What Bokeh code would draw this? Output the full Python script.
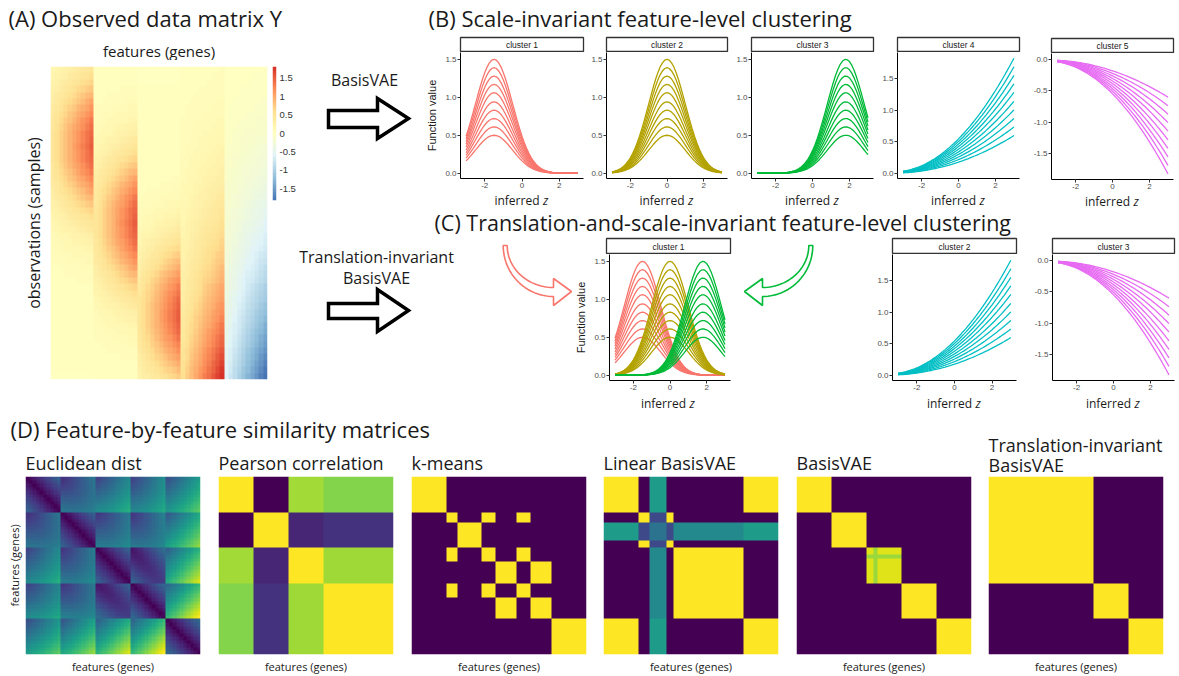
import numpy as np
from bokeh.plotting import figure
from bokeh.layouts import row, column
from bokeh.models import Range1d, LinearColorMapper, FixedTicker
from bokeh.core.properties import value
from bokeh.embed import file_html
from bokeh.resources import INLINE
from bokeh.palettes import Viridis256

# ---------------- DATA ----------------
z_grid = [round(-3 + 0.125 * i, 3) for i in range(49)]   # inferred z sample points

# normalised curve shapes (value at unit amplitude) along z_grid
profile_c1 = [0.3247, 0.3886, 0.4578, 0.5311, 0.6065, 0.6819, 0.7548, 0.8226, 0.8825, 0.9321,
              0.9692, 0.9922, 1.0, 0.9922, 0.9692, 0.9321, 0.8825, 0.8226, 0.7548, 0.6819,
              0.6065, 0.5311, 0.4578, 0.3886, 0.3247, 0.2671, 0.2163, 0.1724, 0.1353, 0.1046,
              0.0796, 0.0596, 0.0439, 0.0319, 0.0228, 0.0160, 0.0111, 0.0076, 0.0051, 0.0034,
              0.0022, 0.0014, 0.0009, 0.0005, 0.0003, 0.0002, 0.0001, 0.0001, 0.0]
profile_c2 = [0.0111, 0.0160, 0.0228, 0.0319, 0.0439, 0.0596, 0.0796, 0.1046, 0.1353, 0.1724,
              0.2163, 0.2671, 0.3247, 0.3886, 0.4578, 0.5311, 0.6065, 0.6819, 0.7548, 0.8226,
              0.8825, 0.9321, 0.9692, 0.9922, 1.0, 0.9922, 0.9692, 0.9321, 0.8825, 0.8226,
              0.7548, 0.6819, 0.6065, 0.5311, 0.4578, 0.3886, 0.3247, 0.2671, 0.2163, 0.1724,
              0.1353, 0.1046, 0.0796, 0.0596, 0.0439, 0.0319, 0.0228, 0.0160, 0.0111]
profile_c3 = [0.0, 0.0, 0.0, 0.0001, 0.0001, 0.0002, 0.0003, 0.0005, 0.0007, 0.0012,
              0.0018, 0.0028, 0.0043, 0.0065, 0.0095, 0.0139, 0.0198, 0.0279, 0.0387, 0.0529,
              0.0710, 0.0939, 0.1223, 0.1568, 0.1979, 0.2459, 0.3008, 0.3623, 0.4296, 0.5014,
              0.5762, 0.6520, 0.7261, 0.7963, 0.8596, 0.9137, 0.9560, 0.9848, 0.9988, 0.9972,
              0.9802, 0.9486, 0.9037, 0.8476, 0.7827, 0.7116, 0.6368, 0.5612, 0.4868]
profile_c45 = [0.0208, 0.0241, 0.0281, 0.0328, 0.0383, 0.0445, 0.0514, 0.0591, 0.0675, 0.0766,
               0.0864, 0.0970, 0.1083, 0.1203, 0.1330, 0.1465, 0.1607, 0.1756, 0.1913, 0.2077,
               0.2248, 0.2427, 0.2613, 0.2806, 0.3006, 0.3214, 0.3428, 0.3651, 0.3880, 0.4117,
               0.4361, 0.4612, 0.4871, 0.5137, 0.5410, 0.5691, 0.5978, 0.6273, 0.6576, 0.6886,
               0.7202, 0.7527, 0.7858, 0.8197, 0.8543, 0.8896, 0.9257, 0.9625, 1.0]
amp_c123 = [0.5, 0.61, 0.72, 0.83, 0.94, 1.06, 1.17, 1.28, 1.39, 1.5]
amp_c45 = [0.6, 0.735, 0.87, 1.005, 1.14, 1.28, 1.415, 1.55, 1.685, 1.82]

cluster_names = ["cluster 1", "cluster 2", "cluster 3", "cluster 4", "cluster 5"]
cluster_colors = ["#F8766D", "#B3A200", "#00BA38", "#00BFC4", "#E76BF3"]
cluster_profiles = [profile_c1, profile_c2, profile_c3, profile_c45, profile_c45]
cluster_amps = [amp_c123, amp_c123, amp_c123, amp_c45, amp_c45]
cluster_signs = [1, 1, 1, 1, -1]

x_ticks = [-2, 0, 2]
y_ticks_pos = [0.0, 0.5, 1.0, 1.5]
y_ticks_neg = [0.0, -0.5, -1.0, -1.5]
cbar_ticks = [1.5, 1, 0.5, 0, -0.5, -1, -1.5]
cbar_labels = ["1.5", "1", "0.5", "0", "-0.5", "-1", "-1.5"]

# co-clustering assignments of the 50 features
kmeans_labels = [0] * 10 + [1] * 3 + [2] * 7 + [1] * 4 + [3] * 6 + [1] * 4 + [3] * 6 + [4] * 10
linear_labels = [0] * 10 + [1] * 3 + [-1] * 5 + [1] * 2 + [2] * 20 + [0] * 10
linear_band_sim = {0: 0.55, 1: 0.22, 2: 0.47, -1: 0.38}
basisvae_labels = [0] * 10 + [1] * 10 + [2] * 10 + [3] * 10 + [4] * 10
basisvae_block_sim = {2: 0.95}
basisvae_uncertain = {22: 0.85}
ti_labels = [0] * 30 + [1] * 10 + [2] * 10

matrix_titles = ["Euclidean dist", "Pearson correlation", "k-means", "Linear BasisVAE",
                 "BasisVAE", "Translation-invariant\nBasisVAE"]

# ---------------- derived tables ----------------
features = []
for prof, amps, sgn in zip(cluster_profiles, cluster_amps, cluster_signs):
    for a in amps:
        features.append([sgn * a * v for v in prof])
F = np.array(features)            # 50 x 49
Y = F.T                           # observations x features

D_euc = np.sqrt(((F[:, None, :] - F[None, :, :]) ** 2).sum(-1))
D_pear = np.abs(np.corrcoef(F))


def cocluster(labels):
    lab = np.array(labels)
    return (lab[:, None] == lab[None, :]).astype(float)


M_km = cocluster(kmeans_labels)
n = len(linear_labels)
M_lin = np.zeros((n, n))
for i in range(n):
    for j in range(n):
        li, lj = linear_labels[i], linear_labels[j]
        if li == -1 and lj == -1:
            M_lin[i, j] = linear_band_sim[-1]
        elif li == -1 or lj == -1:
            M_lin[i, j] = linear_band_sim[lj if li == -1 else li]
        else:
            M_lin[i, j] = 1.0 if li == lj else 0.0
M_bv = cocluster(basisvae_labels)
for blk, v in basisvae_block_sim.items():
    idx = [k for k, l in enumerate(basisvae_labels) if l == blk]
    for i in idx:
        for j in idx:
            M_bv[i, j] = v
for f_i, v in basisvae_uncertain.items():
    idx = [k for k, l in enumerate(basisvae_labels) if l == basisvae_labels[f_i]]
    for j in idx:
        M_bv[f_i, j] = v
        M_bv[j, f_i] = v
M_ti = cocluster(ti_labels)
matrices = [D_euc, D_pear, M_km, M_lin, M_bv, M_ti]

# ---------------- styling helpers ----------------
TF = "Open Sans"
GG = "Liberation Sans"
HEAD = "22px"


def ramp(colors, n):
    rgb = [tuple(int(c[i:i + 2], 16) for i in (1, 3, 5)) for c in colors]
    out = []
    for k in range(n):
        t = k / (n - 1) * (len(rgb) - 1)
        i = min(int(t), len(rgb) - 2)
        f = t - i
        c = [round(rgb[i][m] + (rgb[i + 1][m] - rgb[i][m]) * f) for m in range(3)]
        out.append("#%02x%02x%02x" % tuple(c))
    return out


heat_palette = ramp(["#4575B4", "#91BFDB", "#E0F3F8", "#FFFFBF", "#FEE090", "#FC8D59", "#D73027"], 100)


def fig(**kw):
    return figure(toolbar_location=None, output_backend="svg", frame_align=False, **kw)


def canvas(x0, y0, w, h):
    p = fig(width=w, height=h, x_range=Range1d(x0, x0 + w), y_range=Range1d(y0 + h, y0),
            x_axis_location=None, y_axis_location=None, min_border=0)
    p.outline_line_color = None
    p.grid.visible = False
    return p


def put(p, x, y, txt, size, font=TF, align="left", color="#1a1a1a", style="normal", angle=0.0):
    p.text(x=[x], y=[y], text=[txt], text_font=value(font), text_font_size=value(size),
           text_align=align, text_baseline="middle", text_color=color,
           text_font_style=style, angle=angle)


def style_axis(ax):
    ax.axis_line_color = "black"
    ax.axis_line_width = 1
    ax.major_tick_line_color = "#333333"
    ax.major_tick_out = 3
    ax.major_tick_in = 0
    ax.minor_tick_line_color = None
    ax.major_label_text_font = GG
    ax.major_label_text_font_size = "8px"
    ax.major_label_text_color = "#4d4d4d"
    ax.major_label_standoff = 1


def panel(x0, x1, fl, fr, y_strip_top, strip_pad, strip_h, frame_h, bottom, label_h, label_dy,
          name, series, ylim, yticks, ylabel=None):
    w = x1 - x0
    s = fig(width=w, height=strip_pad + strip_h, x_range=Range1d(0, 1), y_range=Range1d(0, 1),
            x_axis_location=None, y_axis_location=None, min_border_left=fl - x0,
            min_border_right=x1 - fr, min_border_top=strip_pad, min_border_bottom=0)
    s.grid.visible = False
    s.outline_line_color = "#333333"
    s.outline_line_width = 1.3
    s.text(x=[0.5], y=[0.5], text=[name], text_font=value(GG), text_font_size=value("8.5px"),
           text_align="center", text_baseline="middle", text_color="#1a1a1a")

    p = fig(width=w, height=frame_h + bottom, x_range=Range1d(-3.3, 3.3),
            y_range=Range1d(*ylim), min_border_left=fl - x0, min_border_right=x1 - fr,
            min_border_top=0, min_border_bottom=bottom)
    p.grid.visible = False
    p.outline_line_color = None
    for color, amps, sgn, prof in series:
        xs = [z_grid for _ in amps]
        ys = [[sgn * a * v for v in prof] for a in amps]
        p.multi_line(xs=xs, ys=ys, line_color=color, line_width=1.3)
    style_axis(p.xaxis[0])
    style_axis(p.yaxis[0])
    p.xaxis.ticker = FixedTicker(ticks=x_ticks)
    p.xaxis.major_label_overrides = {t: str(t) for t in x_ticks}
    p.yaxis.ticker = FixedTicker(ticks=yticks)
    p.yaxis.major_label_overrides = {t: "%.1f" % t for t in yticks}
    if ylabel:
        p.yaxis.axis_label = ylabel
        p.yaxis.axis_label_text_font = GG
        p.yaxis.axis_label_text_font_size = "11px"
        p.yaxis.axis_label_text_font_style = "normal"
        p.yaxis.axis_label_text_color = "#1a1a1a"
        p.yaxis.axis_label_standoff = 4

    y_lab_top = y_strip_top + strip_pad + strip_h + frame_h + bottom
    lab = canvas(x0, y_lab_top, w, label_h)
    cx = (fl + fr) / 2
    put(lab, cx + 17.5, y_lab_top + label_dy, "inferred", "12px", align="right")
    put(lab, cx + 21, y_lab_top + label_dy, "z", "12px", align="left", style="italic")
    return column(s, p, lab)


def cluster_series(k):
    return [(cluster_colors[k], cluster_amps[k], cluster_signs[k], cluster_profiles[k])]


ylim_123 = (-0.07, 1.59)
ylim_4 = (-0.078, 1.91)
ylim_5 = (-1.91, 0.095)
yticks_k = [y_ticks_pos, y_ticks_pos, y_ticks_pos, y_ticks_pos, y_ticks_neg]
ylims_k = [ylim_123, ylim_123, ylim_123, ylim_4, ylim_5]

# ---------------- panel A ----------------
A_title = canvas(0, 0, 298, 60)
put(A_title, 8, 17, "(A) Observed data matrix Y", HEAD)
put(A_title, 158.5, 50, "features (genes)", "15px", align="center")

heat_mapper = LinearColorMapper(palette=heat_palette, low=float(Y.min()), high=float(Y.max()))
heat = fig(width=270, height=353, x_range=Range1d(0, 50), y_range=Range1d(0, 49),
           x_axis_location=None,
           min_border_left=50, min_border_right=3, min_border_top=6, min_border_bottom=34)
heat.image(image=[Y[::-1]], x=0, y=0, dw=50, dh=49, color_mapper=heat_mapper)
heat.grid.visible = False
heat.outline_line_color = None
ya = heat.yaxis[0]
ya.ticker = FixedTicker(ticks=[])
ya.major_label_text_font_size = "0px"
ya.major_tick_out = 0
ya.major_tick_in = 0
ya.minor_tick_line_color = None
ya.axis_line_color = None
ya.major_label_standoff = 0
ya.axis_label = "observations (samples)"
ya.axis_label_text_font = TF
ya.axis_label_text_font_size = "16px"
ya.axis_label_text_font_style = "normal"
ya.axis_label_text_color = "#1a1a1a"
ya.axis_label_standoff = 6

lo, hi = float(Y.min()), float(Y.max())
cbar = fig(width=28, height=353, x_range=Range1d(0, 1), y_range=Range1d(lo, hi),
           x_axis_location=None, y_axis_location="right", min_border_left=2,
           min_border_right=18, min_border_top=6, min_border_bottom=213)
grad = np.linspace(lo, hi, 100).reshape(100, 1)
cbar.image(image=[grad], x=0, y=lo, dw=1, dh=hi - lo, color_mapper=heat_mapper)
cbar.grid.visible = False
cbar.outline_line_color = None
cy = cbar.yaxis[0]
cy.ticker = FixedTicker(ticks=cbar_ticks)
cy.major_label_overrides = dict(zip(cbar_ticks, cbar_labels))
cy.major_tick_line_color = None
cy.minor_tick_line_color = None
cy.axis_line_color = None
cy.major_tick_out = 0
cy.major_tick_in = 0
cy.major_label_standoff = 3
cy.major_label_text_font = GG
cy.major_label_text_font_size = "9.5px"
cy.major_label_text_color = "#333333"

A_col = column(A_title, row(heat, cbar))

# ---------------- panel B ----------------
B_title = canvas(298, 0, 881, 32)
put(B_title, 428, 17, "(B) Scale-invariant feature-level clustering", HEAD)

arrow1 = canvas(298, 32, 122, 176)
put(arrow1, 364, 79, "BasisVAE", "16px", align="center")
arrow1.patch([328, 377, 377, 408, 377, 377, 328], [110, 110, 98, 118, 138, 127, 127],
             fill_color="white", line_color="black", line_width=3.5, line_join="miter")

B_bounds = [(420, 585, 460, 583), (585, 731, 606, 727), (731, 877, 751, 873),
            (877, 1024, 897, 1019), (1024, 1179, 1051, 1173)]
B_cols = []
for k, (x0, x1, fl, fr) in enumerate(B_bounds):
    if k < 4:
        geo = (5, 15, 126, 13, 17, 8.5)
    else:
        geo = (6, 15, 126, 13, 16, 8.5)
    sp, sh, fh, bt, lh, ld = geo
    B_cols.append(panel(x0, x1, fl, fr, 32, sp, sh, fh, bt, lh, ld, cluster_names[k],
                        cluster_series(k), ylims_k[k], yticks_k[k],
                        ylabel="Function value" if k == 0 else None))
B_row = row(arrow1, row(*B_cols))

# ---------------- panel C ----------------
C_title = canvas(298, 208, 881, 28)
put(C_title, 434, 222, "(C) Translation-and-scale-invariant feature-level clustering", "21.5px")

C_left = canvas(298, 236, 274, 177)
put(C_left, 376, 256, "Translation-invariant", "16px", align="center")
put(C_left, 376, 277, "BasisVAE", "16px", align="center")
C_left.patch([328, 377, 377, 408, 377, 377, 328], [303, 303, 289, 310, 331, 318, 318],
             fill_color="white", line_color="black", line_width=3.5, line_join="miter")

t_out = np.linspace(np.pi, np.pi / 2, 30)
t_in = np.linspace(np.pi / 2, np.pi, 30)
ax_ = list(553 + 50.3 * np.cos(t_out)) + [553, 571, 553] + list(553 + 46.3 * np.cos(t_in))
ay_ = list(245 + 51 * np.sin(t_out)) + [305, 291, 278] + list(245 + 42 * np.sin(t_in))
C_left.patch(ax_, ay_, fill_color="white", line_color=cluster_colors[0], line_width=1.6)

C_green = canvas(735, 236, 135, 177)
C_green.patch([1315 - v for v in ax_], ay_, fill_color="white", line_color=cluster_colors[2],
              line_width=1.6)

c1 = panel(572, 735, 606, 730, 236, 2, 16, 126, 15, 18, 8, "cluster 1",
           [cluster_series(0)[0], cluster_series(1)[0], cluster_series(2)[0]],
           ylim_123, y_ticks_pos, ylabel="Function value")
c2 = panel(870, 1022, 892, 1016, 236, 2, 16, 126, 15, 18, 8, "cluster 2",
           cluster_series(3), ylim_4, y_ticks_pos)
c3 = panel(1022, 1179, 1052, 1174, 236, 2, 16, 126, 15, 18, 8, "cluster 3",
           cluster_series(4), ylim_5, y_ticks_neg)
C_row = row(C_left, c1, C_green, c2, c3)

right = column(B_title, B_row, C_title, C_row)
top = row(A_col, right)

# ---------------- panel D ----------------
D_head = canvas(0, 413, 1179, 63)
put(D_head, 10, 428, "(D) Feature-by-feature similarity matrices", HEAD)
M_bounds = [(0, 208, 25), (208, 401, 218), (401, 593, 411), (593, 786, 603),
            (786, 978, 796), (978, 1179, 988)]
for k, (x0, x1, fl) in enumerate(M_bounds):
    lines = matrix_titles[k].split("\n")
    if len(lines) == 1:
        put(D_head, fl, 462, lines[0], "18px")
    else:
        put(D_head, fl, 444, lines[0], "18px")
        put(D_head, fl, 464, lines[1], "18px")

mats = []
for k, (x0, x1, fl) in enumerate(M_bounds):
    M = matrices[k]
    lo_m = 0.0 if k >= 2 else float(M.min())
    hi_m = 1.0 if k >= 2 else float(M.max())
    mp = LinearColorMapper(palette=Viridis256, low=lo_m, high=hi_m)
    p = fig(width=x1 - x0, height=200, x_range=Range1d(0, 50), y_range=Range1d(0, 50),
            y_axis_location="left" if k == 0 else None,
            min_border_left=fl - x0, min_border_right=x1 - fl - 175,
            min_border_top=0, min_border_bottom=18)
    p.image(image=[M[::-1]], x=0, y=0, dw=50, dh=50, color_mapper=mp)
    p.grid.visible = False
    p.outline_line_color = None
    axes = [p.xaxis[0]] + ([p.yaxis[0]] if k == 0 else [])
    for a in axes:
        a.ticker = FixedTicker(ticks=[])
        a.major_label_text_font_size = "0px"
        a.major_tick_out = 0
        a.major_tick_in = 0
        a.minor_tick_line_color = None
        a.axis_line_color = None
        a.major_label_standoff = 0
        a.axis_label = "features (genes)"
        a.axis_label_text_font = TF
        a.axis_label_text_font_size = "11px"
        a.axis_label_text_font_style = "normal"
        a.axis_label_text_color = "#1a1a1a"
        a.axis_label_standoff = 4
    mats.append(p)

bottom = column(D_head, row(*mats))
layout = column(top, bottom)

with open("out.html", "w") as fh:
    fh.write(file_html(layout, INLINE, title="BasisVAE figure"))
